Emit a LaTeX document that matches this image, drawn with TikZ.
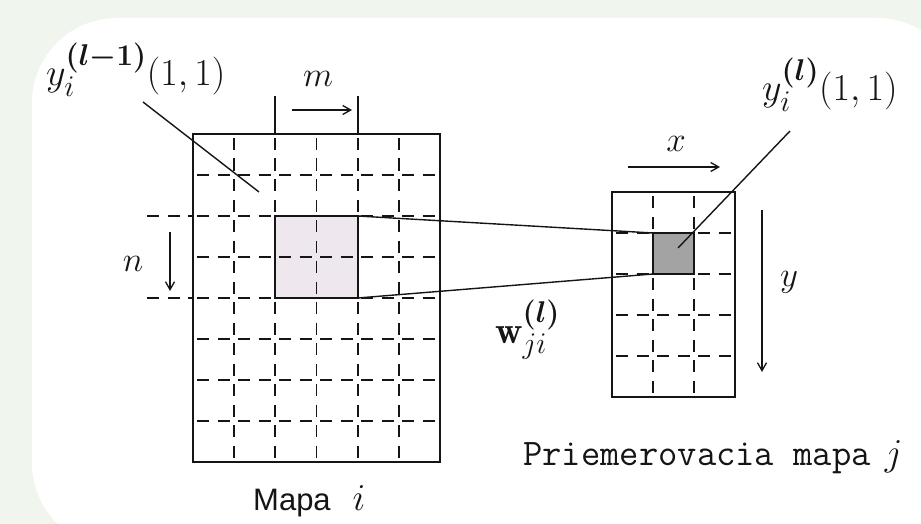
\RequirePackage{fix-cm}
\documentclass[tikz,border=0pt]{standalone}
\usepackage{fontspec}
\usepackage{amsmath}
\usepackage{bm}
\usetikzlibrary{arrows.meta}
\setsansfont{Liberation Sans}
\DeclareMathSizes{38}{38}{30}{24}
\DeclareMathSizes{34}{34}{26}{20}
\definecolor{bggreen}{HTML}{F0F6EE}
\definecolor{hlfill}{HTML}{EEE8EE}
\definecolor{dkfill}{HTML}{A3A3A3}
\definecolor{ink}{HTML}{151515}
\tikzset{
  lab/.style={inner sep=0pt, font=\fontsize{38}{44}\selectfont, text=ink},
  sml/.style={inner sep=0pt, font=\fontsize{35}{40}\selectfont, text=ink},
  gridline/.style={ink, line width=1.8pt, dash pattern=on 12pt off 8.5pt, dash phase=-4pt},
  outline/.style={draw=ink, line width=2.1pt, inner sep=0pt, outer sep=0pt},
  leader/.style={ink, line width=1.4pt},
  conn/.style={ink, line width=1.4pt},
  arr/.style={ink, line width=1.4pt, -{Straight Barb[length=8pt,width=9pt,line width=1.3pt]}},
}
\begin{document}
\begin{tikzpicture}[x=1pt,y=-1pt]
\useasboundingbox (0,0) rectangle (921,524);
\fill[bggreen] (0,0) rectangle (921,524);
\fill[white, rounded corners=85pt] (32,18) rectangle (962,548);

% ---- left map (Mapa i) ----
\node[inner sep=0pt, outer sep=0pt, fill=hlfill, minimum width=82.3pt, minimum height=82pt, anchor=north west] (hl) at (275.3,216) {};
\foreach \i in {1,...,5} \draw[gridline] ({193+\i*41.17},134) -- ({193+\i*41.17},462);
\foreach \j in {1,...,7} \draw[gridline] (193,{134+\j*41}) -- (440,{134+\j*41});
\draw[gridline] (143,216) -- (193,216);
\draw[gridline] (143,298) -- (193,298);
\draw[ink, line width=1.8pt] (275.3,96) -- (275.3,134);
\draw[ink, line width=1.8pt] (357.7,96) -- (357.7,134);
\node[outline, minimum width=247pt, minimum height=328pt, anchor=north west] (mapI) at (193,134) {};
\draw[ink, line width=2.1pt] (hl.north west) rectangle (hl.south east);

% ---- right map ----
\node[inner sep=0pt, outer sep=0pt, fill=dkfill, minimum width=41pt, minimum height=41pt, anchor=north west] (dk) at (653,233) {};
\foreach \i in {1,2} \draw[gridline] ({612+\i*41},192) -- ({612+\i*41},397);
\foreach \j in {1,...,4} \draw[gridline] (612,{192+\j*41}) -- (735,{192+\j*41});
\node[outline, minimum width=123pt, minimum height=205pt, anchor=north west] (mapJ) at (612,192) {};
\draw[ink, line width=2.1pt] (dk.north west) rectangle (dk.south east);

% ---- connectors ----
\draw[conn] (hl.north east) -- (dk.north west);
\draw[conn] (hl.south east) -- (dk.south west);

% ---- labels ----
\node[lab, anchor=base west] (yl) at (46,86) {$y_i^{\bm{(l-1)}}(1,1)$};
\coordinate (yltip) at (259,192);
\draw[leader] (143,102) -- (yltip);

\node[sml, anchor=base] (m) at (318,87) {$m$};
\coordinate (ms) at (292,110);
\coordinate (me) at (352,110);
\draw[arr] (ms) -- (me);

\node[sml, anchor=base] (n) at (133,271) {$n$};
\coordinate (ns) at (170,232);
\coordinate (ne) at (170,291);
\draw[arr] (ns) -- (ne);

\node[sml, anchor=base] (x) at (676,152) {$x$};
\coordinate (xs) at (628,167);
\coordinate (xe) at (720,167);
\draw[arr] (xs) -- (xe);

\node[sml, anchor=base] (y) at (789,286) {$y$};
\coordinate (ys) at (762,210);
\coordinate (ye) at (762,372);
\draw[arr] (ys) -- (ye);

\node[lab, anchor=base west] (yr) at (762,101) {$y_i^{\bm{(l)}}(1,1)$};
\coordinate (yrtip) at (678,248);
\draw[leader] (790,131) -- (yrtip);

\node[lab, anchor=base west] (w) at (495,343) {$\mathbf{w}_{ji}^{\bm{(l)}}$};

\node[lab, anchor=base west] (mapa) at (253,510) {{\sffamily\fontsize{31}{36}\selectfont Mapa}\hspace{22pt}$i$};
\node[lab, anchor=base west] (prie) at (523,465) {{\ttfamily\fontsize{37.5}{42}\selectfont Priemerovacia mapa}\hspace{14pt}$j$};
\end{tikzpicture}
\end{document}
